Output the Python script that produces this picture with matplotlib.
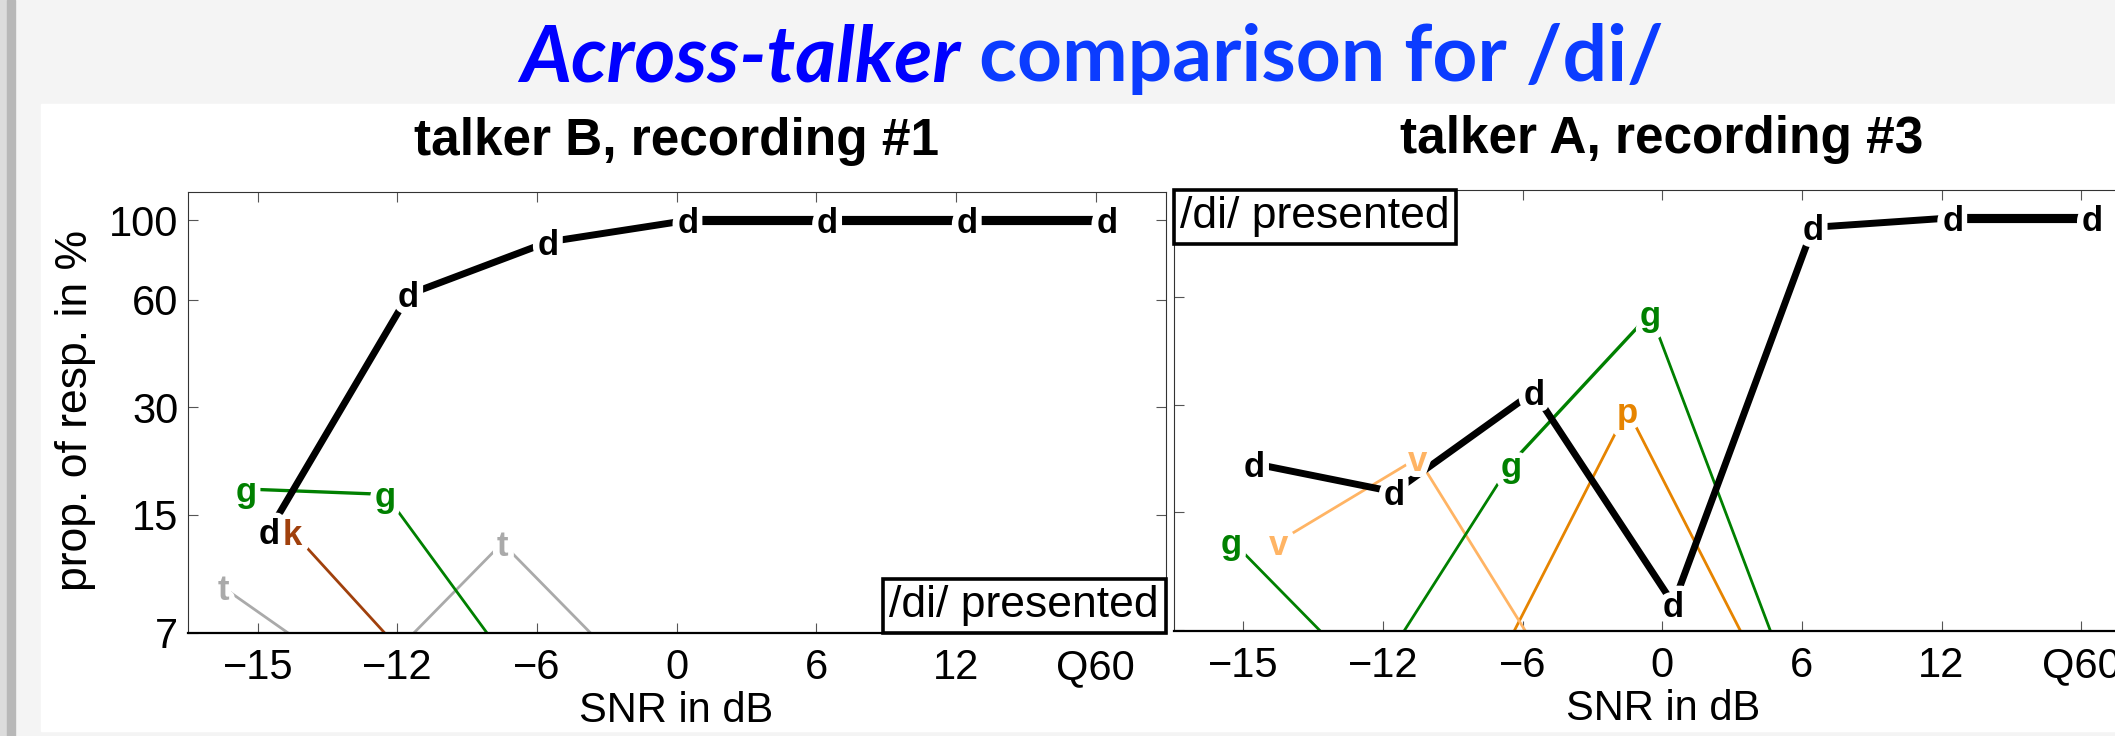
import matplotlib
matplotlib.use('Agg')
import matplotlib.pyplot as plt
import numpy as np
from matplotlib import patheffects
from matplotlib.offsetbox import AnchoredText
from matplotlib.patches import Rectangle
from matplotlib.ticker import NullLocator

plt.rcParams['font.family'] = ['Liberation Sans', 'DejaVu Sans']

nan = np.nan

snr_labels = ['\u221215', '\u221212', '\u22126', '0', '6', '12', 'Q60']
y_ticks = [7, 15, 30, 60, 100]

# talker B, recording #1  (5 = response not given, falls below the axis)
b_d = [13.5, 62, 87, 100, 100, 100, 100]
b_g = [17.7, 17.1, 5, nan, nan, nan, nan]
b_k = [13.4, 5, nan, nan, nan, nan, nan]
b_t = [9.4, 5, 12.5, 5, nan, nan, nan]

# talker A, recording #3
a_d = [20.5, 17.1, 32.6, 8.3, 94, 100, 100]
a_g = [12.5, 5, 20.5, 54, 5, nan, nan]
a_v = [12.4, 21.3, 5, nan, nan, nan, nan]
a_p = [nan, nan, 5, 29, 5, nan, nan]

colors = {'d': 'black', 'g': '#008000', 'k': '#a0400c', 't': '#aaaaaa',
          'v': '#ffb464', 'p': '#e68400'}
offsets = {'d': 0.08, 'g': -0.085, 'k': 0.25, 'v': 0.25, 't': -0.25, 'p': -0.25}

W, H = 2115, 736
fig = plt.figure(figsize=(W / 100, H / 100), dpi=100, facecolor='#f4f4f4')

# slide decoration
fig.patches.append(Rectangle((0, 0), 7 / W, 1, transform=fig.transFigure,
                             color='#dcdcdc', zorder=-10))
fig.patches.append(Rectangle((7 / W, 0), 8 / W, 1, transform=fig.transFigure,
                             color='#b8b8b8', zorder=-10))
fig.patches.append(Rectangle((41 / W, 5 / H), 1, 627 / H, transform=fig.transFigure,
                             color='white', zorder=-10))


def draw_panel(ax, series):
    x = np.arange(len(snr_labels))
    for ph, vals in series:
        vals = np.array(vals, float)
        xs = x + offsets[ph]
        black = ph == 'd'
        for i in range(len(vals) - 1):
            pair = vals[i:i + 2]
            if np.isnan(pair).any():
                continue
            if black:
                lw = 6.6 if pair.min() >= 99 else 5.0
            else:
                lw = 2.4 if pair.min() >= 15 else 2.0
            ax.plot(xs[i:i + 2], pair, color=colors[ph], lw=lw,
                    solid_capstyle='butt', zorder=2.5 if black else 2)
        for xi, v in zip(xs, vals):
            if v >= 7:
                ax.text(xi, v, ph, ha='center', va='center_baseline', fontsize=25,
                        fontweight='bold', color='white', zorder=3,
                        path_effects=[patheffects.withStroke(linewidth=9, foreground='white')])
                ax.text(xi, v, ph, ha='center', va='center_baseline', fontsize=25,
                        fontweight='bold', color=colors[ph], zorder=4)

    ax.set_yscale('log')
    ax.set_xlim(-0.5, 6.5)
    ax.set_ylim(7, 120)
    ax.set_xticks(x)
    ax.set_xticklabels(snr_labels)
    ax.set_yticks(y_ticks)
    ax.yaxis.set_minor_locator(NullLocator())
    ax.tick_params(axis='both', which='both', direction='in', length=7.2, width=0.8,
                   color='#555555', labelsize=30, top=True, right=True)
    ax.tick_params(axis='x', pad=11)
    ax.tick_params(axis='y', pad=7)
    for s in ['left', 'right', 'top']:
        ax.spines[s].set_linewidth(0.8)
        ax.spines[s].set_color('#333333')
    ax.spines['bottom'].set_linewidth(1.6)


def add_box(ax, loc):
    at = AnchoredText('/di/ presented', loc=loc, prop=dict(size=32),
                      frameon=True, pad=0.15, borderpad=0)
    at.patch.set_boxstyle('square,pad=0')
    at.patch.set_linewidth(2.6)
    at.zorder = 6
    ax.add_artist(at)


aw = 977.5 / W
ah = 441 / H
ax1 = fig.add_axes([188 / W, (H - 633) / H, aw, ah])
ax2 = fig.add_axes([1173.5 / W, (H - 630.5) / H, aw, ah])

draw_panel(ax1, [('t', b_t), ('k', b_k), ('g', b_g), ('d', b_d)])
draw_panel(ax2, [('p', a_p), ('v', a_v), ('g', a_g), ('d', a_d)])
ax1.set_yticklabels([str(v) for v in y_ticks])
ax2.set_yticklabels([])
add_box(ax1, 'lower right')
add_box(ax2, 'upper left')

# panel titles and axis labels
fig.text(677 / W, 1 - 155 / H, 'talker B, recording #1', fontsize=37, fontweight='bold',
         ha='center', va='baseline')
fig.text(1662 / W, 1 - 153 / H, 'talker A, recording #3', fontsize=37, fontweight='bold',
         ha='center', va='baseline')
fig.text(676 / W, 1 - 722 / H, 'SNR in dB', fontsize=30, ha='center', va='baseline')
fig.text(1663 / W, 1 - 720 / H, 'SNR in dB', fontsize=30, ha='center', va='baseline')
fig.text(75.5 / W, 1 - 410 / H, 'prop. of resp. in %', fontsize=32, rotation=90,
         ha='center', va='center')

# slide title, two styles side by side
t1 = fig.text(503 / W, 1 - 81 / H, 'Across-talker', fontsize=54, fontweight='bold',
              style='italic', family='Lato', color='#0000ff', va='baseline', ha='left')
t2 = fig.text(503 / W, 1 - 81 / H, ' comparison for /di/', fontsize=54, fontweight='bold',
              family='Lato', color='#0b3cff', va='baseline', ha='left')
r = fig.canvas.get_renderer()
w1 = t1.get_window_extent(r).width
w2 = t2.get_window_extent(r).width
size = 54 * (1178 / (w1 + w2)) ** 0.6
t1.set_fontsize(size)
t2.set_fontsize(size)
w1 = t1.get_window_extent(r).width
x0 = 1092 - (w1 + t2.get_window_extent(r).width) / 2
t1.set_x(x0 / W)
t2.set_x((x0 + w1) / W)

fig.savefig('out.png', dpi=100, facecolor=fig.get_facecolor())
